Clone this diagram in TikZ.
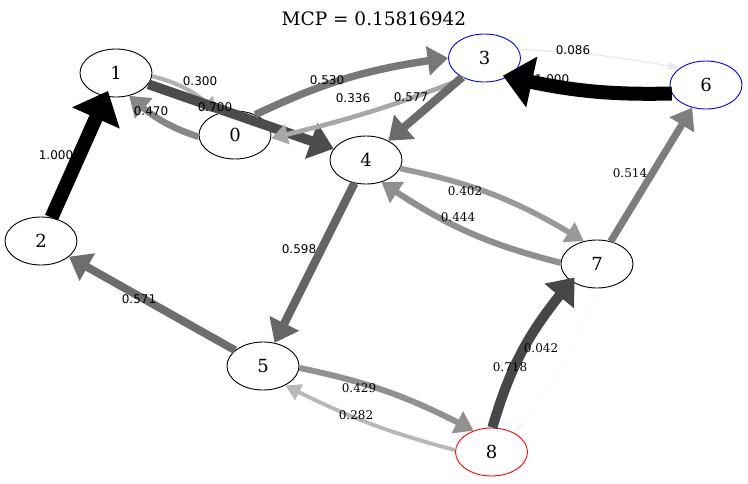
\documentclass[tikz,border=0pt]{standalone}
\usepackage{fontspec}
\setmainfont{DejaVu Serif}
\newfontfamily\lblsans{DejaVu Sans}
\usetikzlibrary{arrows.meta,bending,shapes.geometric}
\tikzset{
  nd/.style={ellipse, draw, line width=0.9pt, minimum width=72pt, minimum height=48pt, inner sep=0pt, font=\fontsize{18}{20}\selectfont},
  ed/.style={line width=#1, -{Triangle[length=10pt 1.4, width=4pt 3.3, flex]}},
  ls/.style={inner sep=0pt, font=\lblsans\fontsize{12}{14}\selectfont},
  lr/.style={inner sep=0pt, font=\fontsize{12}{14}\selectfont},
}
\begin{document}
\begin{tikzpicture}[x=1pt,y=1pt]
\useasboundingbox (0,0) rectangle (748,-483);
\node[inner sep=0pt, font=\fontsize{18.5}{20}\selectfont] (title) at (374,-19) {MCP = 0.15816942};
\node[nd] (n1) at (116,-73) {1};
\node[nd] (n0) at (235,-135) {0};
\node[nd, draw=blue] (n3) at (484.5,-58) {3};
\node[nd, draw=blue] (n6) at (706,-85) {6};
\node[nd] (n4) at (366,-160) {4};
\node[nd] (n2) at (41,-241) {2};
\node[nd] (n7) at (597,-264) {7};
\node[nd] (n5) at (263,-366) {5};
\node[nd, draw=red] (n8) at (491.5,-452) {8};

\draw[ed=14, draw=black, shorten >=-6pt] (n2) -- (n1);
\draw[ed=4.2, draw=black!30] (n1.-5) to[bend left=15] (n0.128);
\draw[ed=6.6, draw=black!47] (n0.183) to[bend left=12] (n1.-60);
\draw[ed=9.8, draw=black!70] (n1) -- (n4);
\draw[ed=7.4, draw=black!53] (n0.45) to[bend left=9] (n3.west);
\draw[ed=4.7, draw=black!34] (n3.225) to[bend left=4] (n0.-5);
\draw[ed=8.1, draw=black!58] (n3) -- (n4);
\draw[ed=1.2, draw=black!9] (n3.14) to[bend left=4] (n6.147);
\draw[ed=14, draw=black, shorten >=-5pt] (n6.194) to[bend left=7] (n3.-39);
\draw[ed=5.6, draw=black!40] (n4.-14) to[bend left=10] (n7.120);
\draw[ed=6.2, draw=black!44] (n7.178) to[bend left=10] (n4.-55);
\draw[ed=7.2, draw=black!51] (n7) -- (n6);
\draw[ed=8.4, draw=black!60] (n4) -- (n5);
\draw[ed=8, draw=black!57] (n5) -- (n2);
\draw[ed=6, draw=black!43] (n5.-3) to[bend left=8] (n8.130);
\draw[ed=3.9, draw=black!28] (n8.177) to[bend left=6] (n5.-41);
\draw[ed=10, draw=black!72, shorten >=-5pt] (n8.88) to[bend left=12] (n7.214);
\draw[ed=0.6, draw=black!4] (n7.-90) to[bend left=10] (n8.40);

\node[ls] (l21) at (56,-155) {1.000};
\node[ls] (l10) at (200,-81) {0.300};
\node[ls] (l01) at (151,-111) {0.470};
\node[ls] (l14) at (215,-107) {0.700};
\node[ls] (l03) at (327,-80) {0.530};
\node[ls] (l30) at (353,-98) {0.336};
\node[ls] (l34) at (411,-97) {0.577};
\node[ls] (l36) at (573,-50) {0.086};
\node[ls] (l63) at (552,-79) {1.000};
\node[lr] (l47) at (465,-191) {0.402};
\node[lr] (l74) at (458,-217) {0.444};
\node[lr] (l76) at (630,-173) {0.514};
\node[ls] (l45) at (299,-249) {0.598};
\node[ls] (l52) at (139,-299) {0.571};
\node[lr] (l58) at (359,-388) {0.429};
\node[lr] (l85) at (356,-415) {0.282};
\node[lr] (l87) at (510,-367) {0.718};
\node[lr] (l78) at (541,-348) {0.042};
\end{tikzpicture}
\end{document}
